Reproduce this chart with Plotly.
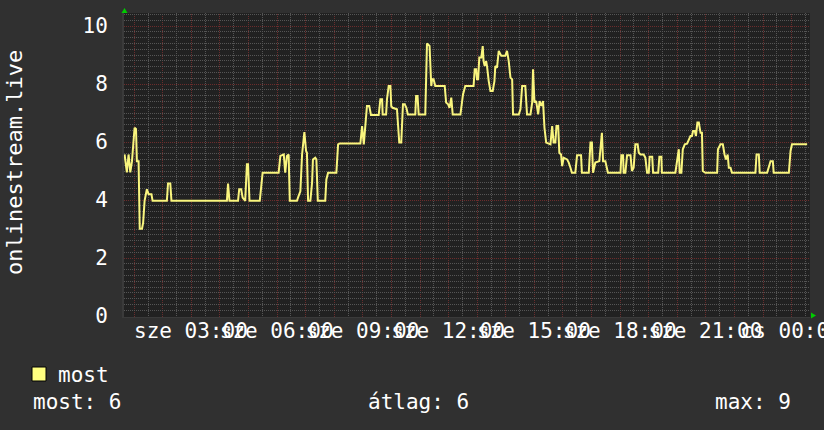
import plotly.graph_objects as go

# ---- data (hours since Wednesday 00:00, value) ----
time_h = [
    0.68, 0.76, 0.82, 0.88, 0.94, 1.03, 1.08, 1.11, 1.17, 1.21, 1.29, 1.33, 1.38, 1.46, 1.52, 1.62, 1.66,
    2.16, 2.20, 2.28, 2.32, 4.26, 4.30, 4.35, 4.65, 4.69, 4.76, 4.81, 4.90, 4.96, 5.00, 5.05, 5.41, 5.46,
    5.51, 6.07, 6.13, 6.25, 6.30, 6.36, 6.42, 6.46,
    6.71, 6.77, 6.83, 6.89, 6.97, 7.03, 7.06, 7.10, 7.18, 7.24, 7.27, 7.35, 7.39, 7.44, 7.70, 7.74, 7.80,
    8.09, 8.15, 8.21, 8.93, 8.99, 9.05, 9.16, 9.24, 9.30, 9.57, 9.63, 9.69, 9.71, 9.83, 9.86, 9.92, 9.98,
    10.01, 10.06, 10.21, 10.29, 10.36, 10.42, 10.48, 10.54, 10.59, 10.85, 10.88, 10.93, 10.97, 11.20,
    11.26, 11.35, 11.41, 11.44, 11.49, 11.55, 11.88, 11.93, 12.00, 12.05, 12.11, 12.16, 12.43,
    12.52, 12.60, 12.89, 12.93, 12.98, 13.01, 13.05, 13.09, 13.16, 13.21, 13.24, 13.28, 13.33, 13.36,
    13.42, 13.48, 13.56, 13.62, 13.65, 13.71, 13.77, 13.86, 14.00, 14.06, 14.12, 14.18, 14.24, 14.27,
    14.47, 14.53, 14.59, 14.70, 14.76, 14.88, 14.94, 14.97, 15.02, 15.08, 15.15, 15.20, 15.26, 15.32,
    15.37, 15.43, 15.58, 15.64, 15.69, 15.75, 15.79, 15.85, 15.89, 15.95, 15.99, 16.04, 16.16, 16.22,
    16.28, 16.33, 16.45, 16.51, 16.65, 16.68, 16.92, 16.98, 17.03, 17.07, 17.15, 17.29, 17.38, 17.42,
    17.50, 17.59, 18.03, 18.06, 18.12, 18.14, 18.20, 18.26, 18.38, 18.43,
    18.49, 18.55, 18.63, 18.67, 18.73, 18.84, 18.90, 18.96, 19.02, 19.05, 19.14, 19.17, 19.35, 19.39,
    19.46, 19.48, 19.95, 20.01, 20.07, 20.10, 20.16, 20.21, 20.28, 20.36, 20.42, 20.48, 20.53, 20.57,
    20.63, 20.67, 20.72, 20.77, 20.83, 20.88, 20.91, 21.00, 21.41, 21.44, 21.53, 21.61, 21.67, 21.72,
    21.78, 21.82, 21.88, 21.93, 22.75, 22.79, 22.87, 22.90, 23.16, 23.22, 23.28, 23.36, 23.39, 23.92,
    23.98, 24.03, 24.56,
]
most_values = [
    5.57, 4.95, 5.57, 4.95, 5.34, 6.49, 6.45, 5.34, 5.34, 3.01, 3.01, 3.22, 3.97, 4.37, 4.20, 4.20, 3.97,
    3.97, 4.57, 4.57, 3.97, 3.97, 4.57, 3.97, 3.97, 4.37, 4.37, 4.08, 3.97, 5.23, 5.23, 3.97, 3.97, 4.43,
    4.94, 4.94, 5.52, 5.57, 4.94, 5.52, 5.57, 3.97,
    3.97, 4.14, 4.30, 5.57, 6.34, 5.69, 5.63, 3.97, 3.97, 4.60, 5.40, 5.46, 5.40, 3.97, 3.97, 4.71, 4.94,
    4.94, 5.92, 5.95, 5.95, 6.55, 5.92, 7.24, 7.24, 6.93, 6.93, 7.47, 7.47, 6.95, 6.95, 7.47, 7.93, 7.93,
    7.24, 7.18, 7.13, 5.98, 5.98, 7.30, 7.30, 7.18, 6.95, 6.95, 7.59, 7.59, 6.95, 6.95,
    9.40, 9.31, 7.93, 8.16, 8.16, 7.93, 7.93, 7.36, 7.30, 7.18, 7.53, 6.95, 6.95,
    7.64, 7.93, 7.93, 8.51, 8.51, 8.16, 8.16, 8.91, 8.91, 9.31, 8.79, 8.62, 8.79, 8.62,
    8.10, 7.76, 7.76, 8.10, 8.62, 8.56, 9.14, 8.97, 8.97, 9.14, 8.79, 8.22, 8.16, 6.95,
    6.95, 7.13, 7.93, 7.93, 6.95, 6.95, 7.36, 8.51, 7.36, 7.41, 6.95, 7.41, 7.24, 7.41,
    6.49, 5.98, 5.92, 6.55, 5.98, 5.98, 6.55, 6.55, 5.63, 5.57, 5.17, 5.46, 5.40, 5.29,
    5.11, 4.94, 4.94, 5.54, 5.54, 4.94, 4.94, 5.98, 5.98, 4.94, 5.29, 5.34, 6.32, 5.34,
    5.34, 4.94, 4.94, 5.54, 5.54, 4.94, 4.94, 5.54, 5.54, 5.00,
    5.11, 5.92, 5.92, 5.63, 5.57, 5.57, 5.46, 4.94, 4.94, 5.49, 5.49, 4.94, 4.94, 5.49,
    5.49, 4.94, 4.94, 5.34, 5.75, 4.94, 4.94, 5.75, 5.92, 5.94, 6.09, 6.21, 6.21, 6.38,
    6.38, 6.21, 6.67, 6.67, 6.32, 6.32, 5.00, 4.94, 4.94, 5.75, 5.92, 5.92, 5.57, 5.40,
    5.57, 5.11, 5.11, 4.94, 4.94, 5.57, 5.57, 4.94, 4.94, 5.11, 5.34, 5.34, 4.94, 4.94,
    5.69, 5.92, 5.92,
]

tick_hours = list(range(1, 25))
tick_labels = ["", "", "sze 03:00", "", "", "sze 06:00", "", "", "sze 09:00", "", "", "sze 12:00",
               "", "", "sze 15:00", "", "", "sze 18:00", "", "", "sze 21:00", "", "", "cs 00:00"]
y_ticks = [0, 2, 4, 6, 8, 10]

series_name = "most"
axis_title = "onlinestream.live"
stat_current = "most: 6"
stat_avg = "átlag: 6"
stat_max = "max: 9"

# ---- layout helpers (pixel -> paper) ----
L, R, T, B = 124, 810, 13, 317
W, H = 824, 430
PX_PER_UNIT = 29.0
X0, X1 = 0.66, 24.66


def px(p):
    return (p - L) / (R - L)


def py(p):
    return (B - p) / (B - T)


FONT = "DejaVu Sans Mono"
LINE_COLOR = "#f9f57e"
GRID_MINOR = "#555555"
GRID_MAJOR_H = "#6c2c2c"
GRID_MAJOR_V = "#6a2e2e"

# minor horizontal grid every 0.2, skipping the major (every 2) positions
y_minor = [round(i * 0.2, 1) for i in range(0, 53) if i % 10 != 0]

fig = go.Figure()
fig.add_trace(go.Scatter(x=time_h, y=most_values, mode="lines",
                         line=dict(color=LINE_COLOR, width=2), name=series_name,
                         hoverinfo="skip"))

grid_dash = "1px,1px"
fig.update_xaxes(
    range=[X0, X1], tickmode="array", tickvals=tick_hours, ticktext=tick_labels,
    tickangle=0, ticks="", showgrid=False,
    minor=dict(dtick=1, tick0=0.5, showgrid=True, gridcolor=GRID_MINOR, griddash=grid_dash, ticks=""),
    zeroline=False, showline=True, linecolor="#3a3a3a", linewidth=1,
    tickfont=dict(family=FONT, size=21, color="white"), ticklabelstandoff=-5,
    ticklabeloverflow="allow", automargin=False,
    fixedrange=True,
)
fig.update_yaxes(
    range=[-1 / PX_PER_UNIT, 10 + 13 / PX_PER_UNIT], tickmode="array", tickvals=y_ticks,
    ticks="", showgrid=True, gridcolor=GRID_MAJOR_H, griddash=grid_dash, gridwidth=1,
    minor=dict(tickmode="array", tickvals=y_minor, showgrid=True, gridcolor=GRID_MINOR,
               griddash=grid_dash, ticks=""),
    zeroline=False, showline=True, linecolor="#3a3a3a", linewidth=2,
    tickfont=dict(family=FONT, size=21, color="white"), ticklabelstandoff=10,
    automargin=False,
    fixedrange=True,
)

# hourly major vertical grid, snapped to whole pixels like the original renderer
shapes = []
for h in tick_hours:
    p = round(L + (h - X0) * (R - L) / (X1 - X0)) + 0.5
    if p >= R:
        continue
    shapes.append(dict(type="line", xref="paper", yref="paper", x0=px(p), x1=px(p), y0=0, y1=1,
                       line=dict(color=GRID_MAJOR_V, width=1, dash=grid_dash), layer="between"))

shapes += [
    # legend swatch
    dict(type="rect", xref="paper", yref="paper", x0=px(32), x1=px(46), y0=py(381), y1=py(367),
         fillcolor="#ffff80", line=dict(color="black", width=1), layer="above"),
    # green axis arrows
    dict(type="path", xref="paper", yref="paper", xsizemode="pixel", ysizemode="pixel",
         xanchor=px(124.5), yanchor=py(13), path="M -3,0 L 3,0 L 0,5 Z",
         fillcolor="#00cc00", line=dict(color="#00cc00", width=0)),
    dict(type="path", xref="paper", yref="paper", xsizemode="pixel", ysizemode="pixel",
         xanchor=px(811), yanchor=py(315.5), path="M 0,-3 L 0,3 L 5,0 Z",
         fillcolor="#00cc00", line=dict(color="#00cc00", width=0)),
]

annotations = [
    dict(text=axis_title, xref="paper", yref="paper", x=px(14), y=py(163), textangle=-90,
         showarrow=False, xanchor="center", yanchor="middle",
         font=dict(family=FONT, size=22, color="white")),
    dict(text=series_name, xref="paper", yref="paper", x=px(56), y=py(375), showarrow=False,
         xanchor="left", yanchor="middle", font=dict(family=FONT, size=21, color="white")),
    dict(text=stat_current, xref="paper", yref="paper", x=px(31), y=py(402), showarrow=False,
         xanchor="left", yanchor="middle", font=dict(family=FONT, size=21, color="white")),
    dict(text=stat_avg, xref="paper", yref="paper", x=px(366), y=py(402), showarrow=False,
         xanchor="left", yanchor="middle", font=dict(family=FONT, size=21, color="white")),
    dict(text=stat_max, xref="paper", yref="paper", x=px(713), y=py(402), showarrow=False,
         xanchor="left", yanchor="middle", font=dict(family=FONT, size=21, color="white")),
]

fig.update_layout(
    width=W, height=H,
    margin=dict(l=L, r=W - R, t=T, b=H - B, pad=0),
    paper_bgcolor="#303030", plot_bgcolor="#212121",
    showlegend=False, shapes=shapes, annotations=annotations,
    font=dict(family=FONT, color="white", size=21),
)

fig.write_html("out.html", config={"displayModeBar": False},
               post_script="document.body.style.margin='0';document.body.style.background='#303030';")
